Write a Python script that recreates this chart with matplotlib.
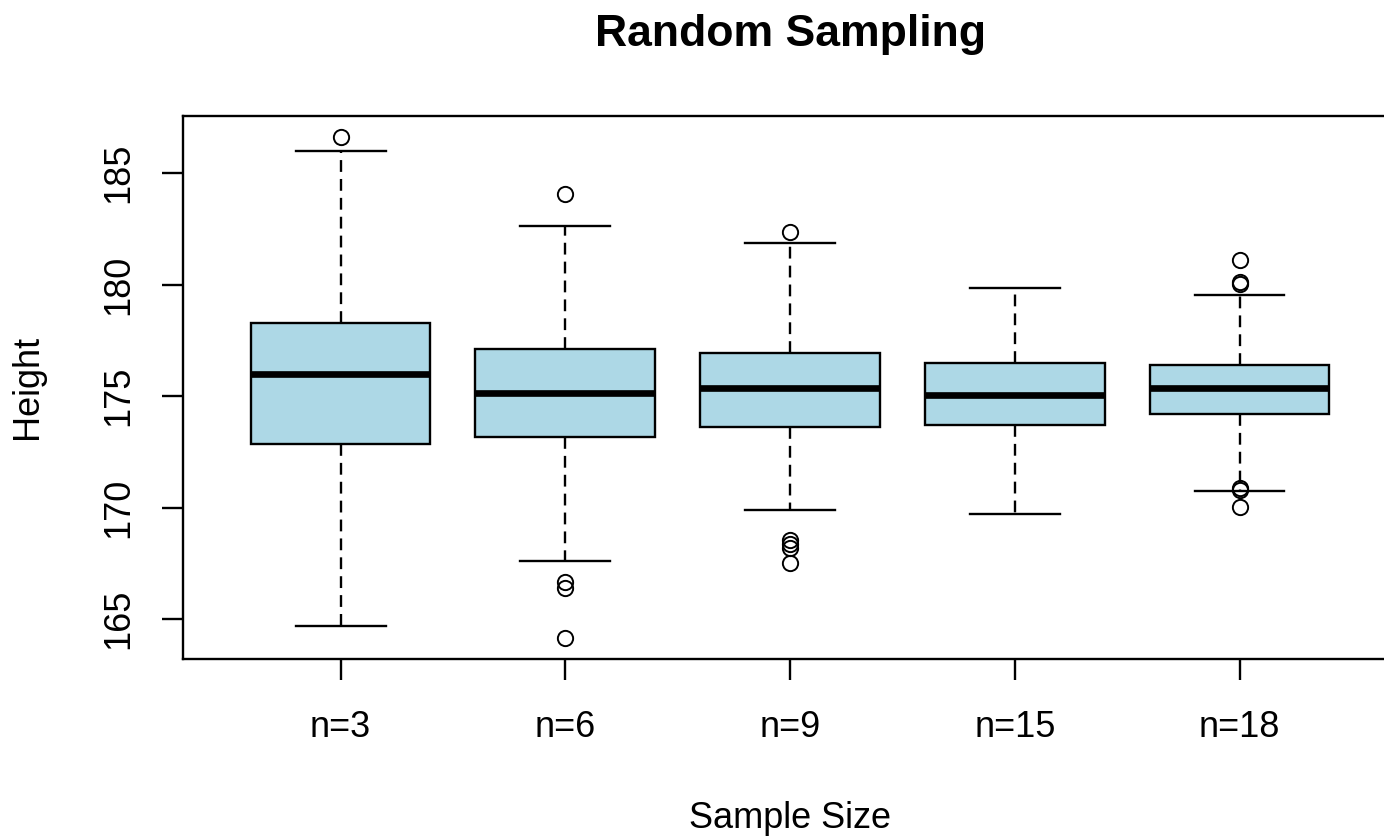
import matplotlib
matplotlib.use("Agg")
import matplotlib.pyplot as plt

plt.rcParams['font.family'] = ['Liberation Sans', 'DejaVu Sans']

# values
groups = ["n=3", "n=6", "n=9", "n=15", "n=18"]
whislo = [164.7, 167.6, 169.9, 169.7, 170.75]
q1 = [172.87, 173.18, 173.6, 173.72, 174.21]
med = [175.98, 175.16, 175.35, 175.04, 175.35]
q3 = [178.3, 177.13, 176.92, 176.51, 176.42]
whishi = [186.02, 182.63, 181.87, 179.84, 179.54]
fliers = [
    [186.64],
    [184.07, 166.69, 166.39, 164.17],
    [182.36, 168.56, 168.38, 168.19, 167.52],
    [],
    [181.12, 180.11, 180.02, 170.9, 170.81, 170.03],
]

stats = []
for i, g in enumerate(groups):
    stats.append(dict(label=g, whislo=whislo[i], q1=q1[i], med=med[i],
                      q3=q3[i], whishi=whishi[i], fliers=fliers[i]))

fig = plt.figure(figsize=(13.84, 8.38), dpi=100)
ax = fig.add_axes([0.1324, 0.2140, 0.8769, 0.6479])

ax.bxp(stats, positions=range(1, 6), widths=0.8, patch_artist=True,
       boxprops=dict(facecolor="#ADD8E6", edgecolor="black", linewidth=1.7),
       medianprops=dict(color="black", linewidth=4.8, solid_capstyle="butt"),
       whiskerprops=dict(color="black", linewidth=1.7, linestyle=(0, (5, 3))),
       capprops=dict(color="black", linewidth=1.7),
       capwidths=0.4,
       flierprops=dict(marker="o", markersize=11, markerfacecolor="none",
                       markeredgecolor="black", markeredgewidth=1.4))

ax.set_xlim(0.3, 5.7)
ax.set_ylim(163.23, 187.58)
ax.set_yticks([165, 170, 175, 180, 185])
ax.set_xticks(range(1, 6))
ax.set_xticklabels(groups)

for s in ax.spines.values():
    s.set_linewidth(1.7)
ax.tick_params(axis="both", length=15, width=1.7, labelsize=26)
ax.tick_params(axis="x", pad=22)
ax.tick_params(axis="y", pad=19)
for lab in ax.get_yticklabels():
    lab.set_rotation(90)
    lab.set_va("center")

ax.set_title("Random Sampling", fontsize=32, fontweight="bold", pad=50)
ax.set_xlabel("Sample Size", fontsize=26, labelpad=40)
ax.set_ylabel("Height", fontsize=26, labelpad=40)

fig.savefig("out.png", dpi=100)
